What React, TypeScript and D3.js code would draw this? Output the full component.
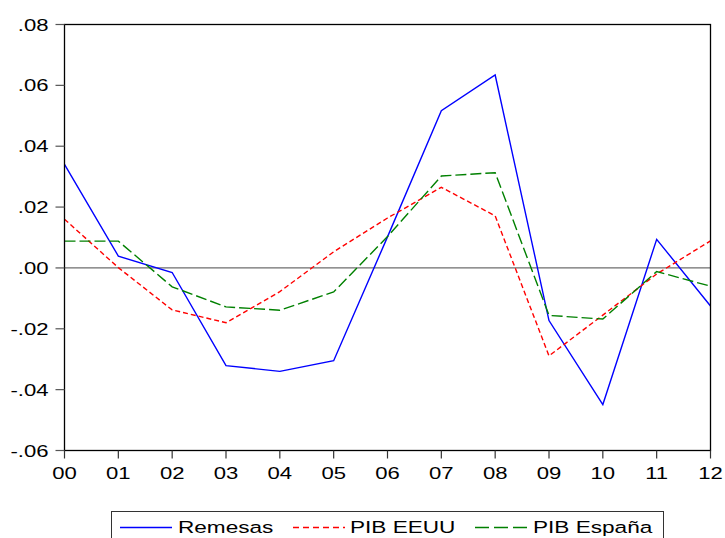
import React from "react";
import * as d3 from "d3";

const years = ["00", "01", "02", "03", "04", "05", "06", "07", "08", "09", "10", "11", "12"];
const remesas = [0.034, 0.0039, -0.0015, -0.0321, -0.034, -0.0305, 0.0102, 0.0517, 0.0634, -0.0173, -0.0449, 0.0094, -0.0125];
const pibEEUU = [0.016, 0.0001, -0.0138, -0.018, -0.0078, 0.0053, 0.0164, 0.0265, 0.0171, -0.0289, -0.0155, -0.002, 0.0089];
const pibEspana = [0.0088, 0.0088, -0.0062, -0.0128, -0.0139, -0.0079, 0.0103, 0.0302, 0.0313, -0.0156, -0.0168, -0.0012, -0.006];
const yTicks = [0.08, 0.06, 0.04, 0.02, 0.0, -0.02, -0.04, -0.06];
const seriesNames = ["Remesas", "PIB EEUU", "PIB España"];

const W = 725;
const H = 538;
const M = { left: 64.5, right: 710.5, top: 24.5, bottom: 450.5 };
const FONT = "'Liberation Sans', Arial, sans-serif";
const SX = 1.34;

const fmt = (v: number) => {
  const s = Math.abs(v).toFixed(2).replace(/^0/, "");
  return v < 0 ? "-" + s : s;
};

export default function App() {
  const x = d3.scaleLinear().domain([0, years.length - 1]).range([M.left, M.right]);
  const y = d3.scaleLinear().domain([-0.06, 0.08]).range([M.bottom, M.top]);
  const line = d3
    .line<number>()
    .x((_, i) => x(i))
    .y((d) => y(d));

  const series = [
    { name: seriesNames[0], data: remesas, color: "#0000ff", dash: undefined as string | undefined, ldash: undefined as string | undefined },
    { name: seriesNames[1], data: pibEEUU, color: "#ff0000", dash: "5,3", ldash: "6,4" },
    { name: seriesNames[2], data: pibEspana, color: "#008000", dash: "11,4", ldash: "14,5" },
  ];

  const legendItems = [
    { sx: 120, tx: 178 },
    { sx: 293, tx: 350 },
    { sx: 475, tx: 533 },
  ];

  return (
    <svg
      width={W}
      height={H}
      style={{ position: "absolute", left: 0, top: 0, background: "#fff" }}
      fontFamily={FONT}
    >
      <rect x={0} y={0} width={W} height={H} fill="#fff" />
      <line x1={M.left} x2={M.right} y1={y(0)} y2={y(0)} stroke="#6e6e6e" strokeWidth={1.2} />
      {series.map((s) => (
        <path
          key={s.name}
          d={line(s.data) || ""}
          fill="none"
          stroke={s.color}
          strokeWidth={1.4}
          strokeDasharray={s.dash}
        />
      ))}
      <rect
        x={M.left}
        y={M.top}
        width={M.right - M.left}
        height={M.bottom - M.top}
        fill="none"
        stroke="#000"
        strokeWidth={1.3}
      />
      {yTicks.map((t) => (
        <g key={t}>
          <line x1={M.left - 9} x2={M.left} y1={y(t)} y2={y(t)} stroke="#555" strokeWidth={1.2} />
          <text
            transform={`translate(${M.left - 16},${y(t) + 6}) scale(${SX},1)`}
            textAnchor="end"
            fontSize={16.5}
            fill="#000"
          >
            {fmt(t)}
          </text>
        </g>
      ))}
      {years.map((yr, i) => (
        <g key={yr}>
          <line x1={x(i)} x2={x(i)} y1={M.bottom} y2={M.bottom + 8} stroke="#333" strokeWidth={1.2} />
          <text
            transform={`translate(${x(i)},${M.bottom + 28}) scale(${SX},1)`}
            textAnchor="middle"
            fontSize={16.5}
            fill="#000"
          >
            {yr}
          </text>
        </g>
      ))}
      <rect x={111.5} y={511.5} width={552} height={40} fill="#fff" stroke="#333" strokeWidth={1} />
      {series.map((s, i) => (
        <g key={"lg" + s.name}>
          <line
            x1={legendItems[i].sx}
            x2={legendItems[i].sx + 52}
            y1={527.5}
            y2={527.5}
            stroke={s.color}
            strokeWidth={1.4}
            strokeDasharray={s.ldash}
          />
          <text
            transform={`translate(${legendItems[i].tx},${533}) scale(${SX + 0.03},1)`}
            fontSize={16.5}
            fill="#000"
          >
            {s.name}
          </text>
        </g>
      ))}
    </svg>
  );
}
